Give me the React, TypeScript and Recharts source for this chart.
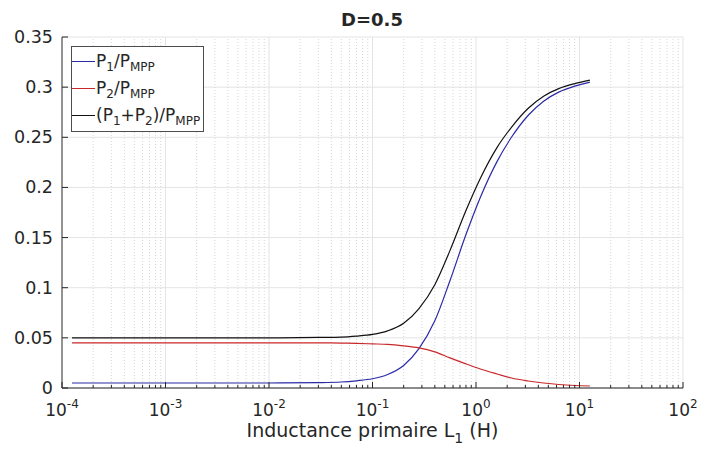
import {
  CartesianGrid,
  Legend,
  Line,
  LineChart,
  ReferenceLine,
  XAxis,
  YAxis,
} from "recharts";

// inductance L1 (H)
const inductance = [
  0.000125, 0.001, 0.01, 0.03, 0.05, 0.07, 0.1, 0.14, 0.2, 0.28, 0.4, 0.56,
  0.8, 1.1, 1.6, 2.2, 3.2, 4.5, 6.3, 9, 12.6,
];
const p1Ratio = [
  0.005, 0.005, 0.005, 0.0054, 0.006, 0.0072, 0.0092, 0.0135, 0.0225, 0.039,
  0.067, 0.107, 0.153, 0.19, 0.226, 0.25, 0.272, 0.286, 0.295, 0.301, 0.305,
];
const p2Ratio = [
  0.045, 0.045, 0.045, 0.045, 0.0448, 0.0445, 0.044, 0.0435, 0.042, 0.04,
  0.036, 0.03, 0.024, 0.019, 0.014, 0.01, 0.007, 0.005, 0.0035, 0.0025, 0.002,
];
const sumRatio = [
  0.05, 0.05, 0.05, 0.0504, 0.0508, 0.0518, 0.0535, 0.057, 0.0645, 0.079,
  0.103, 0.137, 0.177, 0.209, 0.24, 0.26, 0.279, 0.291, 0.2985, 0.3035, 0.307,
];

const yTicks = [0, 0.05, 0.1, 0.15, 0.2, 0.25, 0.3, 0.35];
const yTickLabels = ["0", "0.05", "0.1", "0.15", "0.2", "0.25", "0.3", "0.35"];
const decades = [-4, -3, -2, -1, 0, 1, 2];
const minorSteps = [2, 3, 4, 5, 6, 7, 8, 9];

const data = inductance.map((L, i) => ({
  L,
  p1: p1Ratio[i],
  p2: p2Ratio[i],
  sum: sumRatio[i],
}));

const majorTicks = decades.map((e) => Math.pow(10, e));
const minorTicks = decades
  .slice(0, -1)
  .flatMap((e) => minorSteps.map((m) => m * Math.pow(10, e)));
const xTicks = [...majorTicks, ...minorTicks].sort((a, b) => a - b);

const FONT = "'DejaVu Sans', sans-serif";
const INK = "#262626";
const BLUE = "#2a2aa6";
const RED = "#c8282a";
const BLACK = "#111111";

const XTick = (props: any) => {
  const { x, y, payload } = props;
  const lg = Math.log10(payload.value);
  const exp = Math.round(lg);
  const major = Math.abs(lg - exp) < 1e-6;
  return (
    <g>
      <line x1={x} x2={x} y1={y} y2={y - (major ? 6 : 3)} stroke={INK} />
      {major && (
        <text
          x={x}
          y={y + 28}
          textAnchor="middle"
          fontSize={17}
          fontFamily={FONT}
          fill={INK}
        >
          10
          <tspan dy={-8} fontSize={12}>
            {exp}
          </tspan>
        </text>
      )}
    </g>
  );
};

const YTick = (props: any) => {
  const { x, y, payload } = props;
  const label = yTickLabels[yTicks.indexOf(payload.value)];
  return (
    <g>
      <line x1={x} x2={x + 6} y1={y} y2={y} stroke={INK} />
      <text
        x={x - 9}
        y={y}
        dy={6}
        textAnchor="end"
        fontSize={17.5}
        fontFamily={FONT}
        fill={INK}
      >
        {label}
      </text>
    </g>
  );
};

const XTitle = (props: any) => {
  const { x, y, width } = props.viewBox;
  return (
    <text
      x={x + width / 2}
      y={y + 49}
      textAnchor="middle"
      fontSize={19}
      fontFamily={FONT}
      fill={INK}
    >
      Inductance primaire L
      <tspan dy={6} fontSize={14}>
        1
      </tspan>
      <tspan dy={-6}> (H)</tspan>
    </text>
  );
};

const sub = { fontSize: 12, verticalAlign: "sub", lineHeight: 0 } as const;

const legendRows = [
  {
    color: BLUE,
    label: (
      <>
        P<span style={sub}>1</span>/P<span style={sub}>MPP</span>
      </>
    ),
  },
  {
    color: RED,
    label: (
      <>
        P<span style={sub}>2</span>/P<span style={sub}>MPP</span>
      </>
    ),
  },
  {
    color: BLACK,
    label: (
      <>
        (P<span style={sub}>1</span>+P<span style={sub}>2</span>)/P
        <span style={sub}>MPP</span>
      </>
    ),
  },
];

const LegendBox = () => (
  <div
    style={{
      border: "1px solid #4d4d4d",
      background: "#fff",
      padding: "1px 3px 2px 0",
      fontFamily: FONT,
      fontSize: 17,
      color: INK,
    }}
  >
    {legendRows.map((r, i) => (
      <div
        key={i}
        style={{ display: "flex", alignItems: "center", height: 27 }}
      >
        <span
          style={{
            width: 23,
            height: 0,
            borderTop: `1px solid ${r.color}`,
            marginRight: 1,
          }}
        />
        <span style={{ lineHeight: "17px", whiteSpace: "nowrap" }}>
          {r.label}
        </span>
      </div>
    ))}
  </div>
);

export default function App() {
  return (
    <div style={{ position: "relative", width: 701, height: 450 }}>
      <style>{`body{margin:0;background:#fff}`}</style>
      <div
        style={{
          position: "absolute",
          left: 372,
          top: 9,
          transform: "translateX(-50%)",
          fontFamily: FONT,
          fontWeight: "bold",
          fontSize: 18,
          color: INK,
          whiteSpace: "nowrap",
        }}
      >
        D=0.5
      </div>
      <LineChart
        width={701}
        height={450}
        data={data}
        margin={{ top: 37, right: 18, left: 0, bottom: 0 }}
      >
        <CartesianGrid vertical={false} stroke="#e4e4e4" />
        {minorTicks.map((v) => (
          <ReferenceLine
            key={"m" + v}
            x={v}
            stroke="#d6d6d6"
            strokeDasharray="1 2"
          />
        ))}
        {majorTicks.slice(1).map((v) => (
          <ReferenceLine key={"M" + v} x={v} stroke="#e4e4e4" />
        ))}
        <XAxis
          dataKey="L"
          type="number"
          scale="log"
          domain={[0.0001, 100]}
          ticks={xTicks}
          interval={0}
          height={62}
          tickSize={0}
          tickMargin={0}
          tickLine={false}
          axisLine={{ stroke: INK }}
          tick={<XTick />}
          label={{ content: (p: any) => <XTitle {...p} /> }}
        />
        <YAxis
          type="number"
          domain={[0, 0.35]}
          ticks={yTicks}
          interval={0}
          width={62}
          tickSize={0}
          tickMargin={0}
          tickLine={false}
          axisLine={{ stroke: INK }}
          tick={<YTick />}
        />
        <Legend
          layout="vertical"
          align="center"
          verticalAlign="middle"
          wrapperStyle={{ left: 71, top: 46, width: "auto" }}
          content={() => <LegendBox />}
        />
        <Line
          type="monotone"
          dataKey="p1"
          stroke={BLUE}
          strokeWidth={1.2}
          dot={false}
          isAnimationActive={false}
        />
        <Line
          type="monotone"
          dataKey="p2"
          stroke={RED}
          strokeWidth={1.2}
          dot={false}
          isAnimationActive={false}
        />
        <Line
          type="monotone"
          dataKey="sum"
          stroke={BLACK}
          strokeWidth={1.2}
          dot={false}
          isAnimationActive={false}
        />
      </LineChart>
    </div>
  );
}
